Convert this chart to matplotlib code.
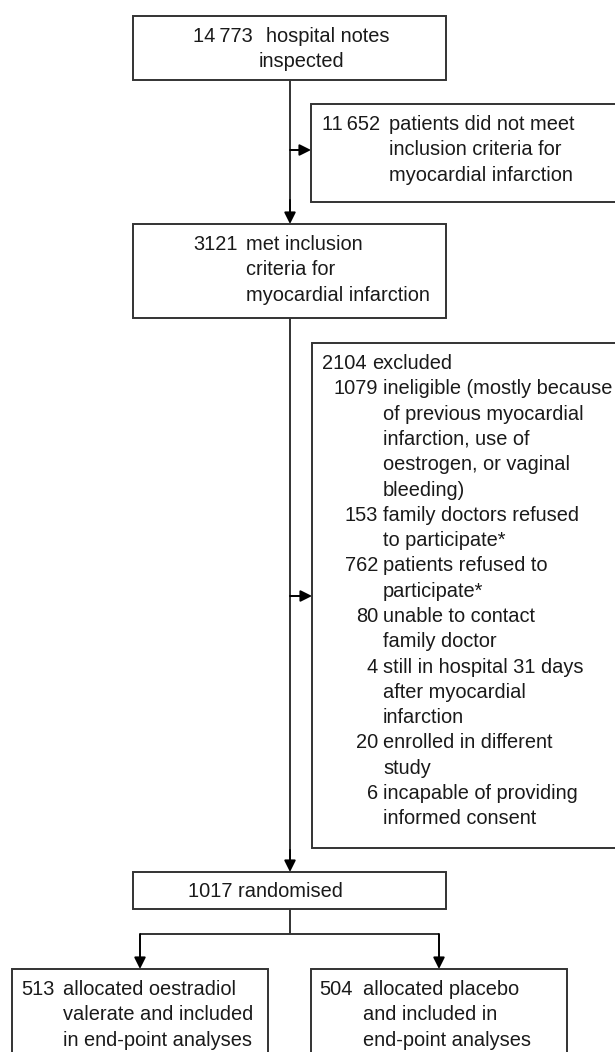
"""Trial profile flowchart - hospital notes to randomised arms"""
import matplotlib
matplotlib.use('Agg')
import matplotlib.pyplot as plt
from matplotlib.patches import Rectangle

plt.rcParams['font.family'] = ['Liberation Sans', 'DejaVu Sans']

# ---- data -------------------------------------------------------------
n_notes = 14773
n_not_met = 11652
n_met = 3121
n_excluded = 2104
n_randomised = 1017

notes_text = ['hospital notes', 'inspected']
not_met_text = ['patients did not meet', 'inclusion criteria for', 'myocardial infarction']
met_text = ['met inclusion', 'criteria for', 'myocardial infarction']
excluded_text = 'excluded'

excl_counts = [1079, 153, 762, 80, 4, 20, 6]
excl_reasons = [
    ['ineligible (mostly because', 'of previous myocardial', 'infarction, use of',
     'oestrogen, or vaginal', 'bleeding)'],
    ['family doctors refused', 'to participate*'],
    ['patients refused to', 'participate*'],
    ['unable to contact', 'family doctor'],
    ['still in hospital 31 days', 'after myocardial', 'infarction'],
    ['enrolled in different', 'study'],
    ['incapable of providing', 'informed consent'],
]

arm_counts = [513, 504]
arm_text = [
    ['allocated oestradiol', 'valerate and included', 'in end-point analyses'],
    ['allocated placebo', 'and included in', 'end-point analyses'],
]

# ---- layout (pixel coordinates, y downwards) ---------------------------
W, H = 615, 1052
FS = 14.4
LH = 25.3          # line height
EC = '#333333'
LW = 1.4


def fmt(n):
    s = f'{n:,}'
    return s.replace(',', '\u2009') if n >= 10000 else s.replace(',', '')


fig = plt.figure(figsize=(W / 100, H / 100), dpi=100)
ax = fig.add_axes([0, 0, 1, 1])
ax.set_xlim(0, W)
ax.set_ylim(H, 0)
ax.axis('off')


def box(x0, y0, x1, y1):
    ax.add_patch(Rectangle((x0, y0), x1 - x0, y1 - y0, fill=True, fc='white',
                           ec=EC, lw=LW, zorder=2))


def txt(x, y, s, ha='left'):
    # y = visual centre of the digits
    ax.text(x, y + 7, s, ha=ha, va='baseline', fontsize=FS, color='#1a1a1a', zorder=3)


def entry(num_right, text_x, y, count, lines, cont_x=None):
    txt(num_right, y, fmt(count), ha='right')
    for i, line in enumerate(lines):
        x = text_x if (i == 0 or cont_x is None) else cont_x
        txt(x, y + i * LH, line)


def line(xs, ys):
    ax.plot(xs, ys, color=EC, lw=LW, solid_capstyle='butt', zorder=1)


def arrow(x0, y0, x1, y1):
    ax.annotate('', xy=(x1, y1), xytext=(x0, y0),
                arrowprops=dict(arrowstyle='-|>', color='black', lw=LW,
                                mutation_scale=17, shrinkA=0, shrinkB=0),
                zorder=1)


CX = 290

# connectors
line([CX, CX], [80, 200])
arrow(CX, 200, CX, 224)
arrow(CX, 150, 311, 150)
line([CX, CX], [318, 850])
arrow(CX, 850, CX, 872)
arrow(CX, 596, 312, 596)
line([CX, CX], [909, 934])
line([140, 439], [934, 934])
arrow(140, 934, 140, 969)
arrow(439, 934, 439, 969)

# boxes
box(133, 16, 446, 80)
entry(253, 266, 35, n_notes, notes_text, cont_x=259)

box(311, 104, 617, 202)
entry(380, 389, 123, n_not_met, not_met_text)

box(133, 224, 446, 318)
entry(238, 246, 243, n_met, met_text)

box(312, 343, 617, 848)
entry(367, 372, 362, n_excluded, [excluded_text])
y = 362 + LH
for c, reasons in zip(excl_counts, excl_reasons):
    entry(378, 383, y, c, reasons)
    y += LH * len(reasons)

box(133, 872, 446, 909)
txt(188, 890, f'{n_randomised} randomised')

arm_boxes = [(12, 268), (311, 567)]
arm_num = [(55, 63), (353, 363)]
for (x0, x1), (nr, tx), c, t in zip(arm_boxes, arm_num, arm_counts, arm_text):
    box(x0, 969, x1, 1060)
    entry(nr, tx, 988, c, t)

fig.savefig('out.png', dpi=100)
